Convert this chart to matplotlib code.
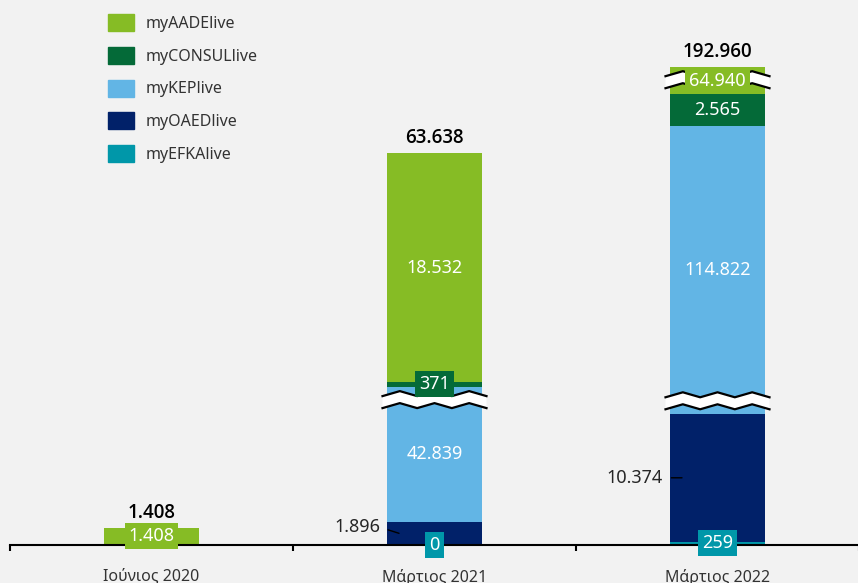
import matplotlib
matplotlib.use('Agg')
import matplotlib.pyplot as plt
import numpy as np
from matplotlib.patches import Patch, Polygon
from matplotlib.transforms import ScaledTranslation

plt.rcParams['font.family'] = ['Noto Sans', 'DejaVu Sans']

# data (stack order: bottom -> top), None = service not yet available
categories = ['Ιούνιος 2020', 'Μάρτιος 2021', 'Μάρτιος 2022']
efka = [None, 0, 259]
oaed = [None, 1896, 10374]
kep = [None, 42839, 114822]
consul = [None, 371, 2565]
aade = [1408, 18532, 64940]

series = [('myEFKAlive', efka, '#0097a9'),
          ('myOAEDlive', oaed, '#012169'),
          ('myKEPlive', kep, '#62b5e5'),
          ('myCONSULlive', consul, '#046a38'),
          ('myAADElive', aade, '#86bc25'),
          ]

# axis breaks: (series, bar, hidden amount, side of the segment where the break sits)
breaks = [('myKEPlive', 1, 31900, 'top'),
          ('myKEPlive', 2, 91500, 'bottom'),
          ('myAADElive', 2, 62700, 'top'),
          ]

bg = '#f2f2f2'
ymax = 44165.
W, H = 858, 583


def fmt(v):
    return '{:,}'.format(v).replace(',', '.')


fig = plt.figure(figsize=(W/100, H/100), dpi=100, facecolor=bg)
ax = fig.add_axes([10/W, 38/H, 849/W, 545/H])
ax.set_facecolor(bg)
ax.set_xlim(-0.5, 2.5)
ax.set_ylim(0, ymax)
for s in ['top', 'left', 'right']:
    ax.spines[s].set_visible(False)
ax.spines['bottom'].set_linewidth(1.5)
ax.spines['bottom'].set_color('black')
ax.set_yticks([])

px_x = 3. / 849
px_y = ymax / 545
width = 95 * px_x

cut = {}
for name, i, hidden, side in breaks:
    cut[(name, i)] = hidden

x = np.arange(len(categories))
bottoms = np.zeros(len(categories))
segs = {}
for name, vals, clr in series:
    for i in x:
        v = vals[i]
        if v is None:
            continue
        shown = v - cut.get((name, i), 0)
        ax.bar(i, shown, bottom=bottoms[i], width=width, color=clr,
               linewidth=0, zorder=2)
        segs[(name, i)] = (bottoms[i], shown)
        ymid = bottoms[i] + shown / 2.
        if name == 'myOAEDlive':
            dy = 6 if shown / px_y < 30 else 0
            ax.annotate(fmt(v), xy=(i - width/2 + 12*px_x, ymid),
                        xytext=(-19, dy), textcoords='offset pixels',
                        ha='right', va='center', fontsize=13, color='#262626',
                        arrowprops=dict(arrowstyle='-', color='black', lw=1.0,
                                        relpos=(1, 0.5), shrinkA=4, shrinkB=0),
                        zorder=5)
        else:
            ax.text(i, ymid, fmt(v), ha='center', va='center', fontsize=13,
                    color='white', zorder=5,
                    bbox=dict(boxstyle='square,pad=0.22', fc=clr, ec='none'))
        bottoms[i] += shown

# break marks
xs = np.linspace(-52, 52, 7)
zig = np.array([-2.5, 2.5] * 4)[:7]
for name, i, hidden, side in breaks:
    b, h = segs[(name, i)]
    yc = b + h - 13 * px_y if side == 'top' else b + 13 * px_y
    trans = fig.dpi_scale_trans + ScaledTranslation(i, yc, ax.transData)
    top = np.column_stack([xs, 6 + zig]) / 100.
    bot = np.column_stack([xs, -6 + zig]) / 100.
    poly = Polygon(np.vstack([top, bot[::-1]]), closed=True, fc='white',
                   ec='none', transform=trans, zorder=3, clip_on=False)
    ax.add_patch(poly)
    ax.plot(top[:, 0], top[:, 1], color='black', lw=1.6, transform=trans,
            zorder=3, clip_on=False)
    ax.plot(bot[:, 0], bot[:, 1], color='black', lw=1.6, transform=trans,
            zorder=3, clip_on=False)

# totals
for i in x:
    total = sum(vals[i] for _, vals, _ in series if vals[i] is not None)
    ax.annotate(fmt(total), xy=(i, bottoms[i]), xytext=(0, 10),
                textcoords='offset pixels', ha='center', va='baseline',
                fontsize=13.5, fontweight='semibold', color='black', zorder=5,
                family=['Open Sans', 'DejaVu Sans'])

# ticks at category boundaries, labels at centres
ax.set_xticks(np.arange(-0.5, 3, 1.0))
ax.set_xticklabels([])
ax.tick_params(axis='x', which='major', length=4.5, width=1.5, color='black')
ax.set_xticks(x, minor=True)
ax.set_xticklabels(categories, minor=True, fontsize=11.5, color='#333333')
ax.tick_params(axis='x', which='minor', length=0, pad=17)

handles = [Patch(color=clr) for _, _, clr in series[::-1]]
labels = [name for name, _, _ in series[::-1]]
fig.legend(handles, labels, loc='upper left', bbox_to_anchor=(108/W, 1 - 14/H),
           bbox_transform=fig.transFigure, frameon=False, fontsize=11.5,
           handlelength=1.63, handleheight=1.25, labelspacing=0.94,
           handletextpad=0.7, borderpad=0, borderaxespad=0,
           labelcolor='#333333')

fig.savefig('out.png', dpi=100, facecolor=bg)
